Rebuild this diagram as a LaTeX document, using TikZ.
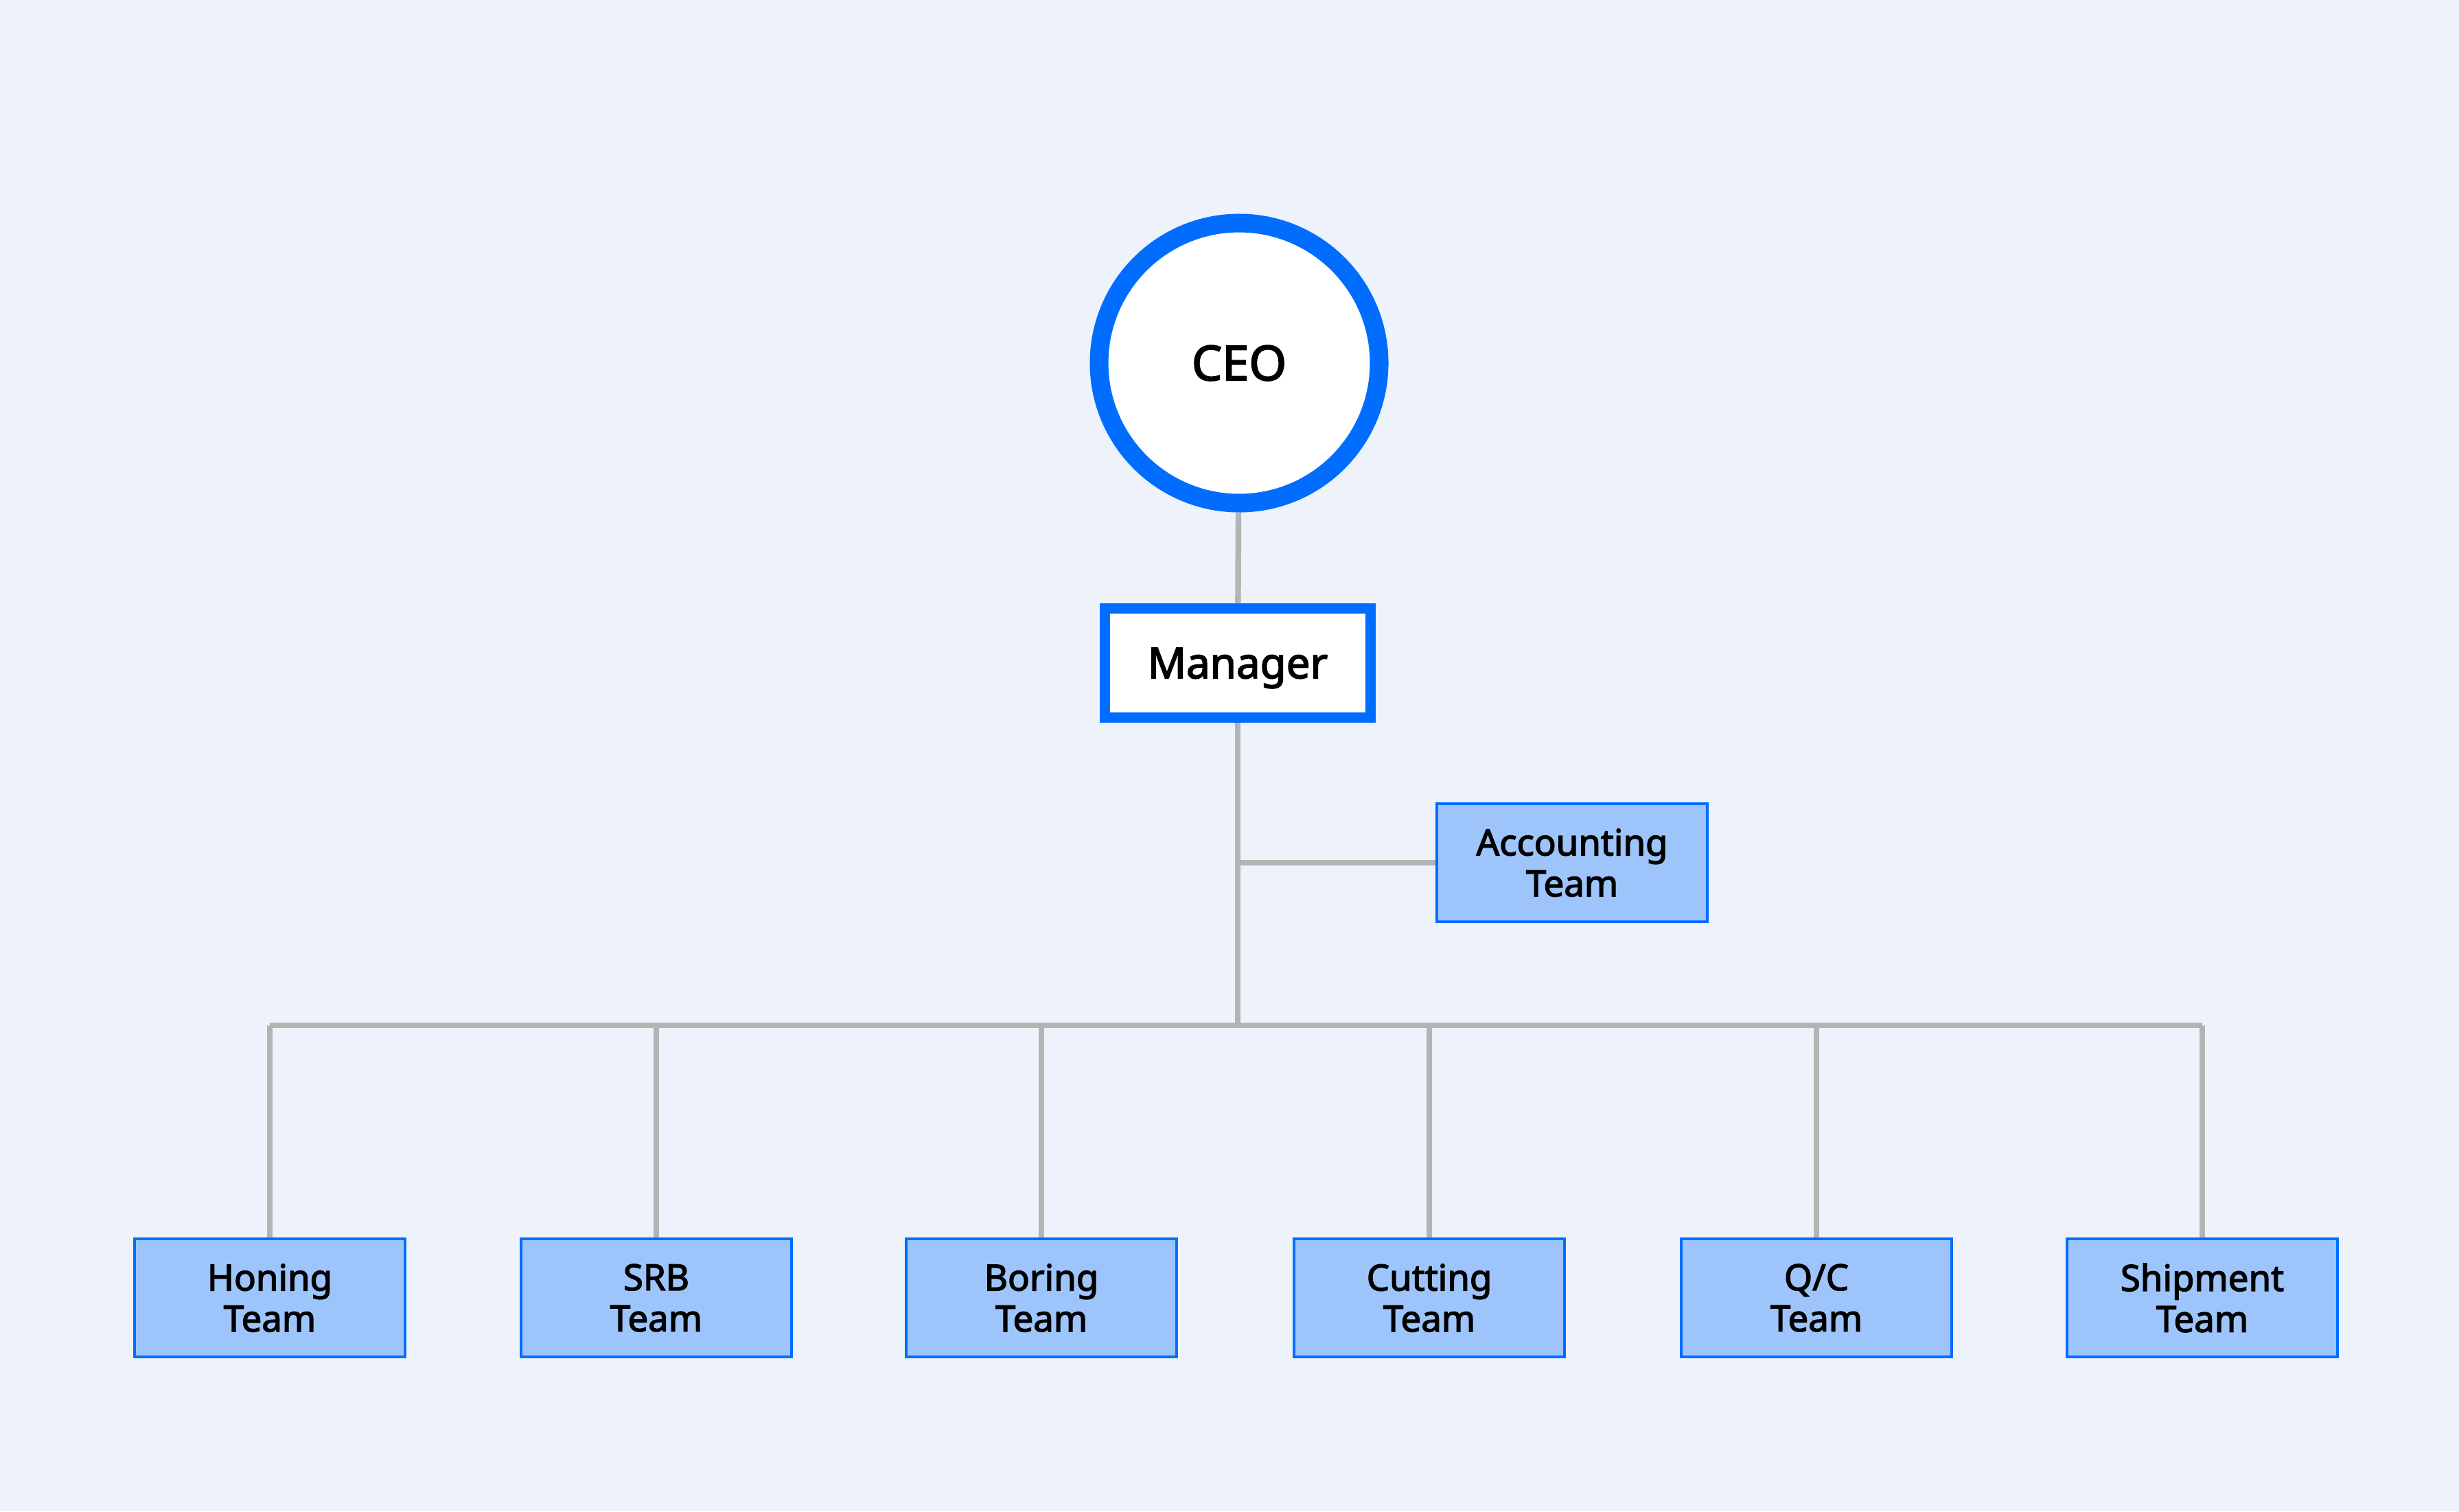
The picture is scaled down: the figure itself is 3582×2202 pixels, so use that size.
\documentclass[tikz,border=0pt]{standalone}
\usepackage{fontspec}
\setmainfont{Noto Sans}[AutoFakeBold=2.6]
\usetikzlibrary{backgrounds}

\definecolor{bgcol}{HTML}{EEF3FB}
\definecolor{edgeblue}{HTML}{006DFF}
\definecolor{teamfill}{HTML}{9EC5FB}
\definecolor{linkgray}{HTML}{B4B4B4}

\tikzset{
  ceo/.style={circle, draw=edgeblue, line width=7.7pt, fill=white,
    minimum size=40.8mm, font=\fontsize{20}{24}\selectfont\bfseries},
  boss/.style={rectangle, draw=edgeblue, line width=4.2pt, fill=white,
    minimum width=38.7mm, minimum height=15.9mm, text height=12.6pt,
    text depth=0pt, font=\fontsize{17.6}{21}\selectfont\bfseries},
  team/.style={rectangle, draw=edgeblue, line width=0.9pt, fill=teamfill,
    minimum width=39.4mm, minimum height=17.2mm, align=center,
    font=\fontsize{15}{17}\selectfont\bfseries},
  link/.style={draw=linkgray, line width=2.4pt}
}

\begin{document}
\begin{tikzpicture}[x=0.1mm, y=-0.1mm, show background rectangle,
    background rectangle/.style={fill=bgcol}, inner frame sep=0pt]
    \useasboundingbox (0,0) rectangle (3582,2202);

    \node[ceo] (ceo) at (1805,529) {CEO};
    \node[boss] (mgr) at (1803,966) {Manager};
    \node[team] (acc) at (2290,1257) {Accounting\\Team};

    \coordinate (split) at (1803,1494);
    \coordinate (accjoin) at (1803,1257);

    \draw[link] (ceo) -- (mgr);
    \draw[link] (mgr) -- (split);
    \draw[link] (accjoin) -- (acc);

    % teams under the manager
    \foreach \name/\x/\label in {hon/393/Honing, srb/956/SRB, bor/1517/Boring,
        cut/2082/Cutting, qc/2646/{Q/C}, shp/3208/Shipment} {
      \node[team] (\name) at (\x,1891) {\label\\Team};
      \coordinate (bus\name) at (\x,1494);
      \draw[link] (bus\name) -- (\name);
    }
    \draw[link] (bushon) -- (busshp);
\end{tikzpicture}
\end{document}
